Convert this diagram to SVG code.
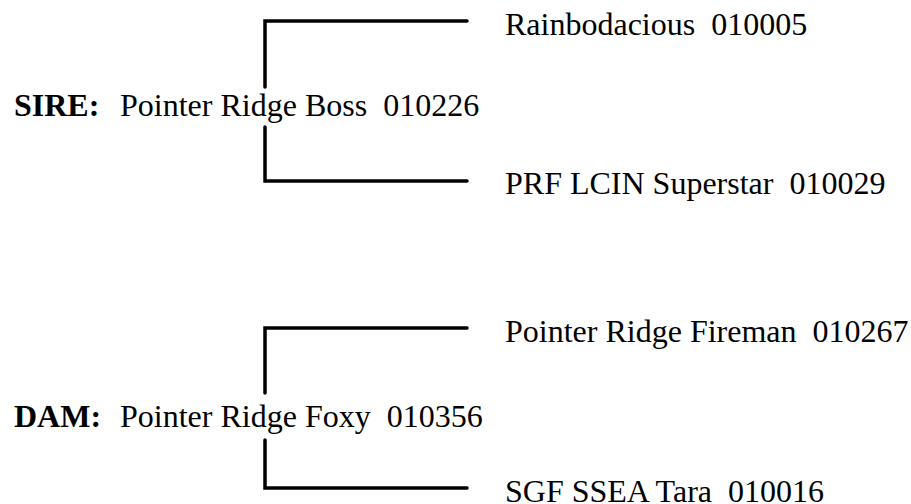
<svg xmlns="http://www.w3.org/2000/svg" width="911" height="504" viewBox="0 0 911 504">
<style>
text{font-family:"Liberation Serif","Times New Roman",serif;font-size:32px;fill:#000;white-space:pre}
.b{font-weight:bold}
.ln{fill:none;stroke:#000;stroke-width:3.5;stroke-linecap:round;stroke-linejoin:miter}
</style>
<rect width="911" height="504" fill="#fff"/>
<g id="connectors">
<path class="ln" d="M265,87 V21 H467"/>
<path class="ln" d="M265,127 V181 H467"/>
<path class="ln" d="M265,393 V328 H467"/>
<path class="ln" d="M265,440 V488 H467"/>
</g>
<g id="sire"><text x="14" y="116"><tspan class="b">SIRE:</tspan></text><text x="120" y="116">Pointer Ridge Boss  010226</text></g>
<g id="sire-sire"><text x="505" y="35">Rainbodacious  010005</text></g>
<g id="sire-dam"><text x="505" y="194">PRF LCIN Superstar  010029</text></g>
<g id="dam"><text x="14" y="427"><tspan class="b">DAM:</tspan></text><text x="120" y="427">Pointer Ridge Foxy  010356</text></g>
<g id="dam-sire"><text x="505" y="342">Pointer Ridge Fireman  010267</text></g>
<g id="dam-dam"><text x="505" y="502">SGF SSEA Tara  010016</text></g>
</svg>
